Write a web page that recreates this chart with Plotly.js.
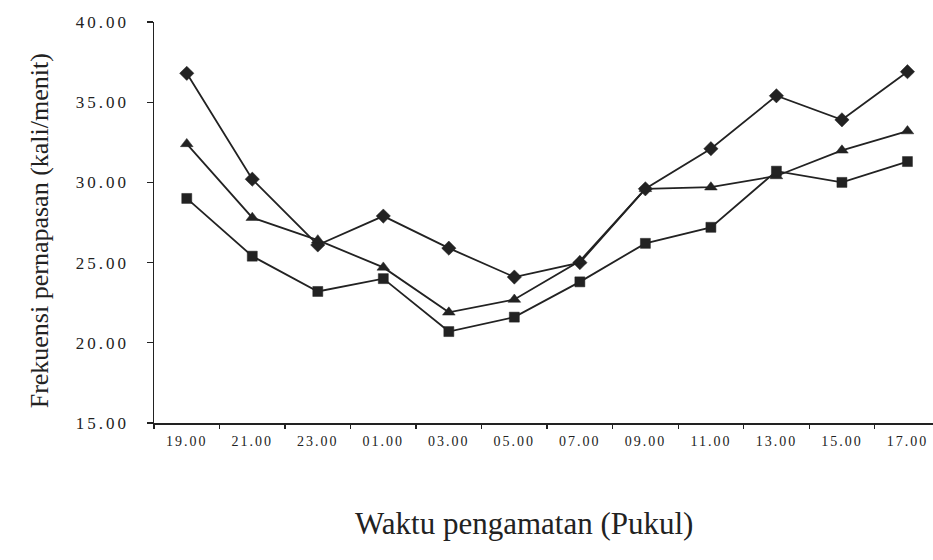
<!DOCTYPE html>
<html>
<head>
<meta charset="utf-8">
<script src="https://cdn.plot.ly/plotly-3.0.1.min.js"></script>
<style>
html,body{margin:0;padding:0;background:#fff;}
#chart{width:933px;height:560px;}
.xtick text{letter-spacing:2px;}
.ytick text{letter-spacing:3px;}
</style>
</head>
<body>
<div id="chart"></div>
<script>
var categories = ["19.00","21.00","23.00","01.00","03.00","05.00","07.00","09.00","11.00","13.00","15.00","17.00"];
var seriesDiamond = [36.8, 30.2, 26.1, 27.9, 25.9, 24.1, 25.0, 29.6, 32.1, 35.4, 33.9, 36.9];
var seriesTriangle = [32.4, 27.8, 26.4, 24.7, 21.9, 22.7, 25.1, 29.6, 29.7, 30.4, 32.0, 33.2];
var seriesSquare = [29.0, 25.4, 23.2, 24.0, 20.7, 21.6, 23.8, 26.2, 27.2, 30.7, 30.0, 31.3];
var yTicks = [15, 20, 25, 30, 35, 40];

var ink = "#222222";
function mk(y, sym, size) {
  return {
    x: categories, y: y, type: "scatter", mode: "lines+markers",
    line: {color: ink, width: 1.8},
    marker: {symbol: sym, size: size, color: ink, line: {color: ink, width: 0.5}},
    showlegend: false, hoverinfo: "skip"
  };
}
var data = [
  mk(seriesDiamond, "diamond", 11),
  mk(seriesTriangle, "triangle-up", 11),
  mk(seriesSquare, "square", 10)
];
var layout = {
  width: 933, height: 560,
  margin: {l: 154, r: 0, t: 22, b: 137},
  paper_bgcolor: "#fff", plot_bgcolor: "#fff",
  font: {family: "Liberation Serif", color: ink},
  xaxis: {
    type: "category", range: [-0.5, 11.39],
    showline: true, linecolor: ink, linewidth: 1.5,
    showgrid: false, zeroline: false,
    ticks: "outside", ticklen: 4, tickcolor: ink, tickwidth: 1.2,
    tickson: "boundaries", ticklabelstandoff: 5,
    tickfont: {family: "Liberation Serif", size: 14, color: ink}
  },
  yaxis: {
    range: [15, 40], tickvals: yTicks, tickformat: ".2f",
    showline: true, linecolor: ink, linewidth: 1.5,
    showgrid: false, zeroline: false,
    ticks: "outside", ticklen: 6, tickcolor: ink, tickwidth: 1.2,
    ticklabelstandoff: 14,
    tickfont: {family: "Liberation Serif", size: 17, color: ink}
  },
  annotations: [
    {text: "Frekuensi pernapasan (kali/menit)", xref: "paper", yref: "paper",
     x: -0.167, y: 0.479, textangle: -90, showarrow: false,
     font: {family: "Liberation Serif", size: 26, color: ink}},
    {text: "Waktu pengamatan (Pukul)", xref: "paper", yref: "paper",
     x: 0.475, y: -0.299, showarrow: false,
     font: {family: "Liberation Serif", size: 31, color: ink}}
  ]
};
Plotly.newPlot("chart", data, layout, {displayModeBar: false, staticPlot: true});
</script>
</body>
</html>
